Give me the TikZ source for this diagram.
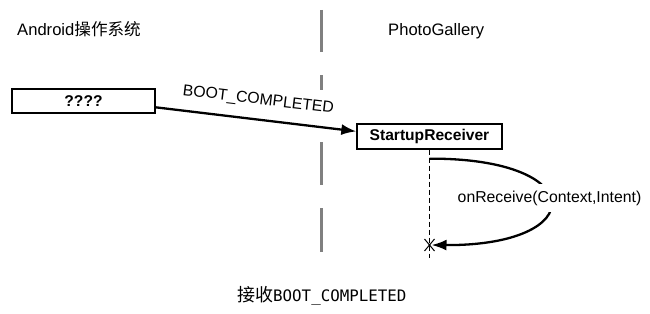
\documentclass[tikz,border=0pt]{standalone}
\usepackage{fontspec}
\setmainfont{Liberation Sans}
\newfontfamily\cjk{Noto Sans CJK SC}
\newfontfamily\monof{DejaVu Sans Mono}
\usetikzlibrary{arrows.meta,calc}
\definecolor{divgray}{RGB}{128,128,128}
\begin{document}
\begin{tikzpicture}[x=1pt,y=-1pt,
  txt/.style={font=\fontsize{15.8}{18}\selectfont, inner sep=0pt},
  title/.style={font=\fontsize{16.6}{19}\selectfont, inner sep=0pt},
  objbox/.style={draw, line width=1.3pt, fill=white, inner sep=0pt,
    font=\bfseries\fontsize{15.6}{18}\selectfont},
  msg/.style={line width=2.3pt, -{Latex[length=15pt,width=11pt]}},
  divider/.style={draw=divgray, line width=2.6pt},
  lifeline/.style={line width=1pt, dash pattern=on 5pt off 3pt}]
\useasboundingbox (0,0) rectangle (650,313);

% titles
\node[title, anchor=west] (osname) at (17,29) {Android{\cjk 操作系统}};
\node[title, anchor=west] (appname) at (388,31) {PhotoGallery};

% divider
\draw[divider] (321.7,10) -- (321.7,52);
\draw[divider] (321.7,75) -- (321.7,90);
\draw[divider] (321.7,142) -- (321.7,185);
\draw[divider] (321.7,208) -- (321.7,252);

% objects
\node[objbox, minimum width=143pt, minimum height=24pt] (os) at (83.5,101) {????};
\node[objbox, minimum width=145pt, minimum height=25pt] (rcv) at (429.5,136.5) {StartupReceiver};

% message
\draw[msg] (os.-5.6) -- node[txt, midway, sloped, above=11pt] (bootlbl) {BOOT\_COMPLETED} (rcv.176);

% lifeline
\draw[lifeline] (rcv.south) -- ++(0,108) coordinate (lend);
\coordinate (xm) at (429.5,245);
\draw[line width=1pt] ($(xm)+(-5,-6)$) -- ($(xm)+(5,6)$) ($(xm)+(-5,6)$) -- ($(xm)+(5,-6)$);

% self message
\coordinate (sstart) at ($(rcv.south)+(0,9)$);
\draw[msg] (sstart) .. controls (590,158) and (590,246) .. ($(xm)+(2,0)$);
\node[txt, fill=white, inner xsep=1pt, inner ysep=7pt] (recv) at (549.5,198) {onReceive(Context,Intent)};

% caption
\node[txt, anchor=west] (cap) at (237,296) {{\cjk\fontsize{18}{20}\selectfont 接收}{\monof\fontsize{15.8}{18}\selectfont BOOT\_COMPLETED}};
\end{tikzpicture}
\end{document}
